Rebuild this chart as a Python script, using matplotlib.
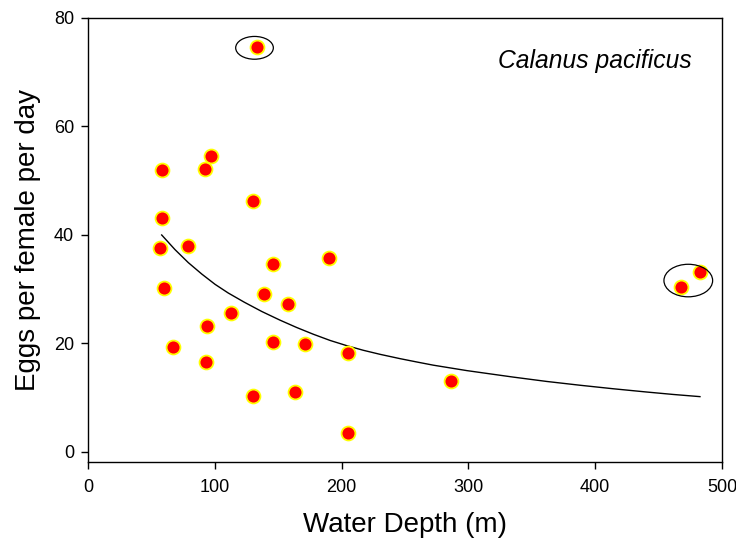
import matplotlib
matplotlib.use("Agg")
import matplotlib.pyplot as plt
from matplotlib.patches import Ellipse


OUTPUT_PLOT_NAME = "out.png"

# Egg production observations (water depth in m, eggs per female per day)
depth_m = [
    133.3, 58.4, 97.0, 92.3, 58.4, 130.0, 56.8, 78.9, 59.9, 190.0,
    146.0, 138.8, 157.7, 112.8, 93.8, 67.0, 146.0, 171.0, 205.0, 93.0,
    130.0, 163.0, 205.0, 286.0, 467.7, 482.6,
]
eggs_per_day = [
    74.7, 52.0, 54.6, 52.2, 43.1, 46.3, 37.6, 38.0, 30.2, 35.8,
    34.7, 29.1, 27.3, 25.6, 23.2, 19.4, 20.3, 19.9, 18.2, 16.6,
    10.3, 11.1, 3.5, 13.1, 30.4, 33.2,
]

# Fitted curve
fit_depth = [
    58.1, 68.6, 79.1, 89.7, 100.2, 110.6, 123.3, 137.0, 151.4, 164.5,
    177.7, 191.0, 204.0, 217.0, 230.3, 246.1, 259.0, 272.3, 285.5, 298.7,
    317.0, 335.4, 361.7, 388.0, 414.3, 440.6, 461.6, 482.6,
]
fit_eggs = [
    40.0, 37.3, 34.9, 32.8, 30.9, 29.3, 27.6, 25.9, 24.3, 22.95,
    21.7, 20.55, 19.6, 18.75, 18.0, 17.2, 16.6, 16.0, 15.5, 15.0,
    14.4, 13.8, 13.0, 12.3, 11.65, 11.05, 10.6, 10.2,
]

# Outlier rings: (centre depth, centre eggs, width, height)
ring_centre_depth = [131.3, 473.4]
ring_centre_eggs = [74.5, 31.6]
ring_width = [29.7, 38.4]
ring_height = [4.2, 6.0]

x_ticks = [0, 100, 200, 300, 400, 500]
y_ticks = [0, 20, 40, 60, 80]


def main() -> None:
    plt.rcParams["font.family"] = ["Liberation Sans", "DejaVu Sans"]

    fig = plt.figure(figsize=(7.36, 5.42), dpi=100)
    ax = fig.add_axes([0.1196, 0.1476, 0.8614, 0.8192])

    ax.plot(fit_depth, fit_eggs, color="black", linewidth=1.0, zorder=2)

    ax.plot(
        depth_m,
        eggs_per_day,
        linestyle="none",
        marker="o",
        markersize=10,
        markerfacecolor="#ff0000",
        markeredgecolor="#ffff00",
        markeredgewidth=1.3,
        zorder=3,
    )

    for cx, cy, w, h in zip(ring_centre_depth, ring_centre_eggs, ring_width, ring_height):
        ax.add_patch(
            Ellipse((cx, cy), w, h, fill=False, edgecolor="black", linewidth=0.9, zorder=4)
        )

    ax.set_xlim(0, 500)
    ax.set_ylim(-1.85, 80)
    ax.set_xticks(x_ticks)
    ax.set_yticks(y_ticks)
    ax.tick_params(axis="both", direction="out", length=5, width=1.0, labelsize=13)
    ax.tick_params(axis="x", pad=7)
    ax.tick_params(axis="y", pad=5)
    for spine in ax.spines.values():
        spine.set_linewidth(1.0)

    ax.set_xlabel("Water Depth (m)", fontsize=20, labelpad=12)
    ax.set_ylabel("Eggs per female per day", fontsize=20, labelpad=9)

    ax.text(
        0.80,
        0.904,
        "Calanus pacificus",
        transform=ax.transAxes,
        ha="center",
        va="center",
        fontsize=17.7,
        fontstyle="italic",
    )

    fig.savefig(OUTPUT_PLOT_NAME, dpi=100)


if __name__ == "__main__":
    main()
